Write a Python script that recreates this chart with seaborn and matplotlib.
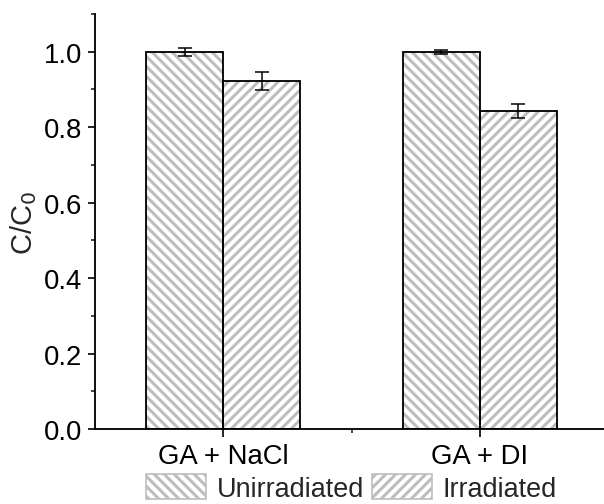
import matplotlib
matplotlib.use("Agg")
import matplotlib.pyplot as plt
import matplotlib.patches as mpatches
from matplotlib.ticker import MultipleLocator, FixedLocator
import seaborn as sns
import pandas as pd
import numpy as np

categories = ["GA + NaCl", "GA + DI"]
groups = ["Unirradiated", "Irradiated"]
unirradiated = [1.000, 1.000]
irradiated = [0.923, 0.843]
unirradiated_err = [0.011, 0.005]
irradiated_err = [0.024, 0.019]

sns.set_style("ticks")
plt.rcParams["font.family"] = ["Liberation Sans", "DejaVu Sans"]
plt.rcParams["hatch.linewidth"] = 1.8

df = pd.DataFrame({
    "cat": categories * 2,
    "group": [groups[0]] * 2 + [groups[1]] * 2,
    "val": unirradiated + irradiated,
    "err": unirradiated_err + irradiated_err,
})

dpi = 120
fig = plt.figure(figsize=(604 / dpi, 505 / dpi), dpi=dpi)
ax = fig.add_axes([95 / 604, 1 - 430 / 505, (608 - 95) / 604, (430 - 15) / 505])

sns.barplot(data=df, x="cat", y="val", hue="group", order=categories,
            hue_order=groups, palette=["white", "white"], width=0.6,
            errorbar=None, legend=False, ax=ax)

hatches = {groups[0]: "\\" * 4, groups[1]: "/" * 4}
hatch_color = "#bdbdbd"
patches = [p for p in ax.patches]
order = [(g, c) for g in groups for c in categories]
for p, (g, c) in zip(patches, order):
    p.set_hatch(hatches[g])
    p.set_edgecolor(hatch_color)
    p.set_linewidth(0)
    ax.add_patch(mpatches.Rectangle((p.get_x(), p.get_y()), p.get_width(), p.get_height(),
                                    fill=False, edgecolor="black", linewidth=1.1, zorder=3))
    row = df[(df["group"] == g) & (df["cat"] == c)].iloc[0]
    ax.errorbar(p.get_x() + p.get_width() / 2, row["val"], yerr=row["err"],
                fmt="none", ecolor="black", elinewidth=0.9, capsize=4, capthick=0.9, zorder=4)

ax.set_xlim(-0.5, 1.5)
ax.set_ylim(0, 1.1)
ax.yaxis.set_minor_locator(MultipleLocator(0.1))
ax.xaxis.set_minor_locator(FixedLocator([0.5]))
ax.set_yticks(np.arange(0, 1.01, 0.2))
ax.set_yticklabels([f"{v:.1f}" for v in np.arange(0, 1.01, 0.2)])
ax.tick_params(axis="both", which="major", direction="out", length=4.5, width=1,
               labelsize=16.5, colors="black")
ax.tick_params(axis="both", which="minor", direction="out", length=2.5, width=1)
ax.tick_params(axis="x", labelsize=16.5, pad=4)
ax.tick_params(axis="y", pad=3)
ax.set_xlabel("")
ax.set_ylabel("C/C$_0$", fontsize=17.5, labelpad=3)
for s in ["top", "right"]:
    ax.spines[s].set_visible(False)
for s in ["left", "bottom"]:
    ax.spines[s].set_linewidth(1.1)
    ax.spines[s].set_color("black")

handles = [mpatches.Patch(facecolor="white", edgecolor=hatch_color, hatch=hatches[g], linewidth=1)
           for g in groups]
fig.legend(handles, groups, loc="center", bbox_to_anchor=(0.582, 0.032), ncol=2,
           frameon=False, fontsize=16.2, handlelength=2.2, handleheight=1.05,
           handletextpad=0.4, columnspacing=0.3, borderpad=0, borderaxespad=0)

fig.savefig("out.png", dpi=dpi)
